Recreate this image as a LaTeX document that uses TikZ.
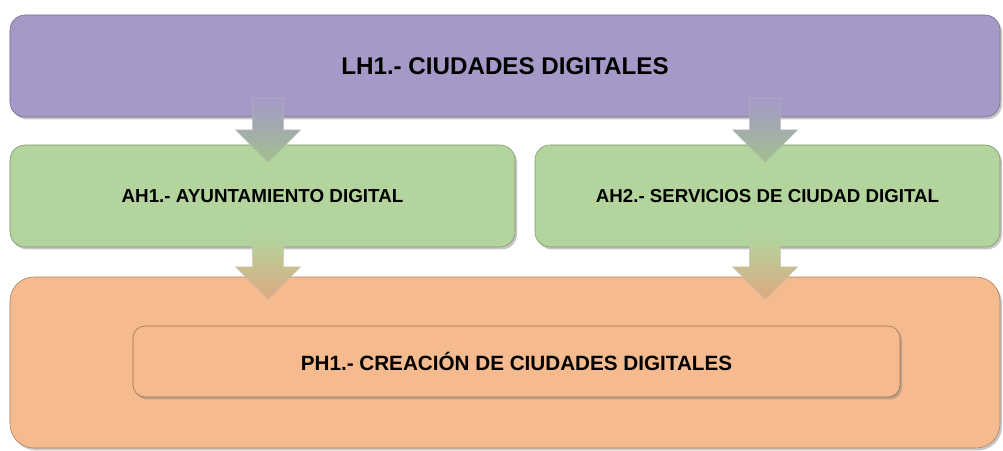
\documentclass[tikz,border=0pt]{standalone}
\usepackage{fontspec}
\setmainfont{Liberation Sans}
\usepackage{tikz}
\usetikzlibrary{arrows,positioning,calc,shapes.arrows,shadows}

\definecolor{lhcol}{HTML}{A59AC7}
\definecolor{ahcol}{HTML}{B3D59D}
\definecolor{phcol}{HTML}{F5BA8D}

\begin{document}
\begin{tikzpicture}[
  box/.style={rectangle, rounded corners=0.375cm, inner sep=0pt, font=\bfseries,
    drop shadow={opacity=0.45, shadow xshift=0.05cm, shadow yshift=-0.06cm}},
  downarrow/.style={single arrow, shape border rotate=270, draw=black!25, very thin, anchor=tail,
    minimum height=1.6cm, inner sep=0.3875cm, single arrow head extend=0.425cm}
  ]
  \useasboundingbox (0,0) rectangle (25.075,11.25);

  \node (LH) [box, fill=lhcol, draw=lhcol!70!black, minimum width=24.75cm, minimum height=2.55cm,
    font=\fontsize{17.2}{20}\bfseries] at (12.625,9.6) {LH1.- CIUDADES DIGITALES};
  \node (AHa) [box, fill=ahcol, draw=ahcol!70!black, minimum width=12.625cm, minimum height=2.55cm,
    font=\fontsize{13.4}{16}\bfseries] at (6.5625,6.35) {AH1.- AYUNTAMIENTO DIGITAL};
  \node (AHb) [box, fill=ahcol, draw=ahcol!70!black, minimum width=11.625cm, minimum height=2.55cm,
    font=\fontsize{13.3}{16}\bfseries] at (19.1875,6.35) {AH2.- SERVICIOS DE CIUDAD DIGITAL};
  \node (PHbox) [box, fill=phcol, draw=phcol!70!black, rounded corners=0.6cm, minimum width=24.75cm,
    minimum height=4.275cm] at (12.625,2.1875) {};
  \node (PH) [box, fill=phcol, draw=phcol!60!black, rounded corners=0.3cm, minimum width=19.175cm,
    minimum height=1.775cm, font=\fontsize{14.7}{17}\bfseries] at (12.9125,2.2125)
    {PH1.- CREACIÓN DE CIUDADES DIGITALES};

  % arrows between the levels
  \node (A1) [downarrow, top color=lhcol, middle color=lhcol!10!white, bottom color=ahcol!90!black]
    at ($(LH.south -| AHa)+(0.14,0.475)$) {};
  \node (A2) [downarrow, top color=lhcol, middle color=lhcol!10!white, bottom color=ahcol!90!black]
    at ($(LH.south -| AHb)+(-0.06,0.475)$) {};
  \node (A3) [downarrow, minimum height=1.55cm, top color=ahcol, middle color=ahcol!10!white,
    bottom color=phcol!90!black] at ($(AHa.south)+(0.14,0.25)$) {};
  \node (A4) [downarrow, minimum height=1.55cm, top color=ahcol, middle color=ahcol!10!white,
    bottom color=phcol!90!black] at ($(AHb.south)+(-0.06,0.25)$) {};
\end{tikzpicture}
\end{document}
